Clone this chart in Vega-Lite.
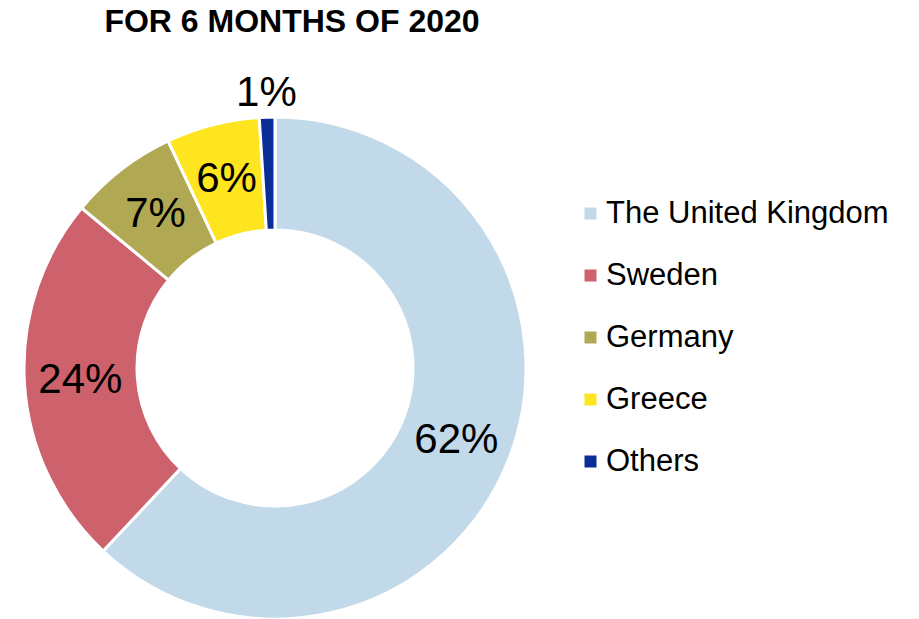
{
  "$schema": "https://vega.github.io/schema/vega-lite/v6.json",
  "autosize": "none",
  "width": 502,
  "height": 502,
  "padding": {"left": 24, "top": 117, "right": 393, "bottom": 0},
  "background": "white",
  "title": {
    "text": "FOR 6 MONTHS OF 2020",
    "font": "Liberation Sans",
    "fontSize": 32,
    "fontWeight": "bold",
    "color": "#000000",
    "anchor": "middle",
    "dx": 17,
    "offset": 33
  },
  "data": {
    "values": [
      {"country": "The United Kingdom", "share": 0.62, "idx": 1},
      {"country": "Sweden", "share": 0.24, "idx": 2},
      {"country": "Germany", "share": 0.07, "idx": 3},
      {"country": "Greece", "share": 0.06, "idx": 4},
      {"country": "Others", "share": 0.01, "idx": 5}
    ]
  },
  "encoding": {
    "theta": {"field": "share", "type": "quantitative", "stack": true},
    "order": {"field": "idx", "type": "quantitative"},
    "color": {
      "field": "country",
      "type": "nominal",
      "sort": ["The United Kingdom", "Sweden", "Germany", "Greece", "Others"],
      "scale": {
        "domain": ["The United Kingdom", "Sweden", "Germany", "Greece", "Others"],
        "range": ["#c2d9e9", "#cd616c", "#b1a853", "#ffe51f", "#0a2d96"]
      },
      "legend": {
        "title": null,
        "orient": "none",
        "legendX": 551,
        "legendY": 81,
        "symbolType": "square",
        "symbolSize": 144,
        "symbolStrokeWidth": 0,
        "labelFont": "Liberation Sans",
        "labelFontSize": 31,
        "labelColor": "#000000",
        "labelOffset": 0,
        "rowPadding": 30,
        "labelLimit": 400
      }
    }
  },
  "layer": [
    {
      "mark": {"type": "arc", "outerRadius": 251, "innerRadius": 138, "stroke": "white", "strokeWidth": 3}
    },
    {
      "mark": {"type": "text", "radius": 195, "font": "Liberation Sans", "fontSize": 42, "color": "#000000"},
      "encoding": {
        "text": {
          "condition": {"test": "datum.country === 'Others'", "value": ""},
          "field": "share",
          "type": "quantitative",
          "format": ".0%"
        },
        "color": {"value": "#000000"}
      }
    },
    {
      "mark": {"type": "text", "radius": 275, "font": "Liberation Sans", "fontSize": 42, "color": "#000000"},
      "encoding": {
        "text": {
          "condition": {"test": "datum.country !== 'Others'", "value": ""},
          "field": "share",
          "type": "quantitative",
          "format": ".0%"
        },
        "color": {"value": "#000000"}
      }
    }
  ],
  "config": {"view": {"stroke": null}}
}
